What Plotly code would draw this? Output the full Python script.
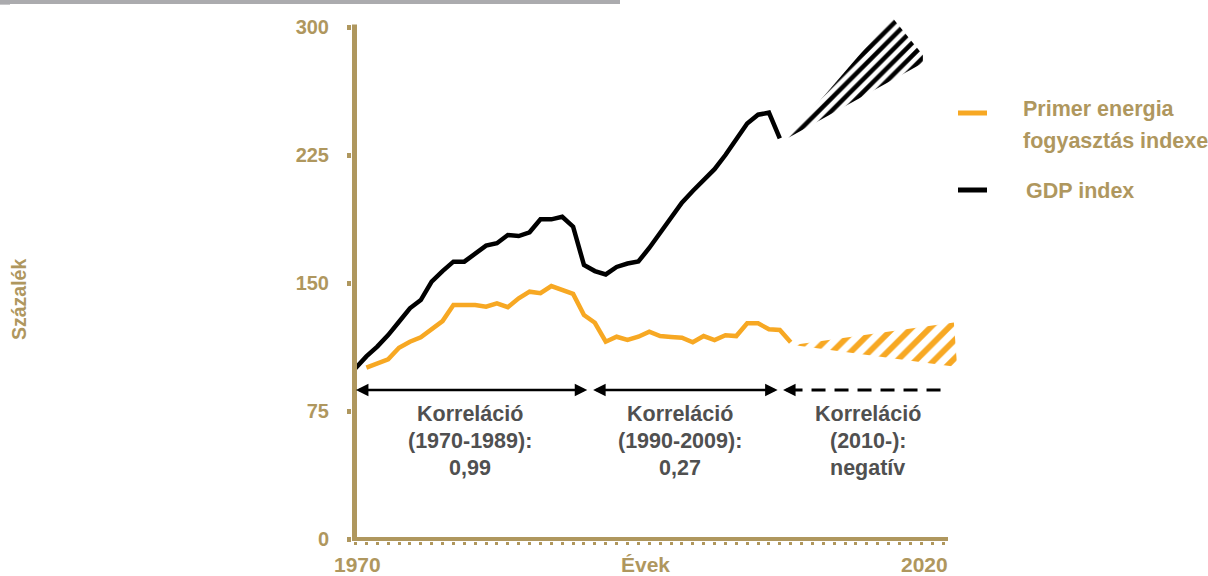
import plotly.graph_objects as go

# ---------------- data ----------------
gdp_years = list(range(1970, 2010))
gdp_index = [100, 107, 112.7, 119.5, 127.3, 135.2, 140.0, 150.8, 157.0, 162.5,
             162.5, 167.4, 171.9, 173.3, 178.1, 177.5, 179.7, 187.3, 187.3, 188.8,
             183.0, 160.5, 157.0, 155.0, 159.4, 161.4, 162.6, 170.5, 179.1, 187.9,
             197.1, 203.9, 210.2, 216.7, 225.0, 234.2, 243.5, 248.6, 249.8, 234.7]

energy_years = list(range(1971, 2011))
energy_index = [100.4, 102.8, 105.3, 112.1, 115.6, 118.2, 122.9, 127.7, 137.1, 137.1,
                137.1, 136.1, 138.1, 135.8, 141.0, 144.9, 144.0, 148.2, 145.9, 143.6,
                131.2, 126.7, 115.6, 118.5, 116.6, 118.5, 121.5, 118.9, 118.4, 117.9,
                115.3, 118.9, 116.6, 119.4, 118.9, 126.4, 126.4, 122.9, 122.5, 115.3]

# projection ranges (hatched areas)
gdp_proj_years = [2009.75, 2019.3, 2022.15, 2022.15, 2009.75]
gdp_proj_values = [235.0, 305.9, 283.6, 278.9, 235.0]
energy_proj_years = [2010.2, 2025.0, 2025.3, 2010.2]
energy_proj_values = [113.7, 126.8, 100.8, 113.7]

y_ticks = [0, 75, 150, 225, 300]
x_minor_ticks = list(range(1970, 2025))
x_labels = ["1970", "Évek", "2020"]

periods = [
    {"start": 1969.9, "end": 1991.3, "lines": ["Korreláció", "(1970-1989):", "0,99"], "dashed": False},
    {"start": 1991.7, "end": 2008.8, "lines": ["Korreláció", "(1990-2009):", "0,27"], "dashed": False},
    {"start": 2009.3, "end": 2024.4, "lines": ["Korreláció", "(2010-):", "negatív"], "dashed": True},
]
period_label_x = [1980.5, 1999.8, 2017.1]

legend_names = [["Primer energia", "fogyasztás indexe"], ["GDP index"]]

# ---------------- style ----------------
KHAKI = "#AF975E"
ORANGE = "#F7A823"
BLACK = "#000000"
GRAY = "#505050"
FONT = "Liberation Sans"

W, H = 1208, 576
L, R, T, B = 352, 1208 - 962, 5, 576 - 541
PW, PH = W - L - R, H - T - B


def px(x):
    return (x - L) / PW


def py(y):
    return (H - B - y) / PH


X0 = 1970 - 3.5 / 10.88
X1 = 1970 + 606.5 / 10.88
Y0 = -2 / 1.70667
Y1 = 536 / 1.70667 + Y0

fig = go.Figure()

fig.add_trace(go.Scatter(
    x=gdp_proj_years, y=gdp_proj_values, fill="toself", mode="lines",
    line=dict(width=0, color=BLACK), fillcolor="white",
    fillpattern=dict(shape="/", fgcolor=BLACK, bgcolor="white", fgopacity=1,
                     size=9, solidity=0.5),
    hoverinfo="skip", showlegend=False))
fig.add_trace(go.Scatter(
    x=energy_proj_years, y=energy_proj_values, fill="toself", mode="lines",
    line=dict(width=0, color=ORANGE), fillcolor="white",
    fillpattern=dict(shape="/", fgcolor=ORANGE, bgcolor="white", fgopacity=1,
                     size=13, solidity=0.45),
    hoverinfo="skip", showlegend=False))

fig.add_trace(go.Scatter(x=energy_years, y=energy_index, mode="lines",
                         line=dict(color=ORANGE, width=4.5), showlegend=False))
fig.add_trace(go.Scatter(x=gdp_years, y=gdp_index, mode="lines",
                         line=dict(color=BLACK, width=4.5), showlegend=False))

shapes = []
# axis lines
shapes.append(dict(type="line", xref="x", yref="y", x0=1969.908, x1=1969.908, y0=Y0, y1=301.5,
                   line=dict(color=KHAKI, width=5)))
shapes.append(dict(type="line", xref="x", yref="y", x0=X0, x1=2024.458, y0=0, y1=0,
                   line=dict(color=KHAKI, width=4)))
# top gray bar
shapes.append(dict(type="rect", xref="paper", yref="paper", x0=px(0), x1=px(620), y0=py(4), y1=py(0),
                   line=dict(width=0), fillcolor="#ABABAE"))
shapes.append(dict(type="rect", xref="paper", yref="paper", x0=px(0), x1=px(10), y0=py(5), y1=py(4),
                   line=dict(width=0), fillcolor="#C8C8CA"))

annotations = []
ARROW_Y = (539 - 390) / 1.70667
for p in periods:
    if not p["dashed"]:
        annotations.append(dict(x=p["end"], y=ARROW_Y, ax=p["start"], ay=ARROW_Y,
                                axref="x", ayref="y", xref="x", yref="y", text="",
                                showarrow=True, arrowside="end+start", arrowhead=2,
                                arrowsize=1, arrowwidth=2.5, arrowcolor=BLACK))
    else:
        shapes.append(dict(type="line", xref="x", yref="y", x0=p["start"] + 0.5, x1=p["end"],
                           y0=ARROW_Y, y1=ARROW_Y, line=dict(color=BLACK, width=3, dash="14px,9px")))
        annotations.append(dict(x=p["start"], y=ARROW_Y, ax=p["start"] + 1.2, ay=ARROW_Y,
                                axref="x", ayref="y", xref="x", yref="y", text="",
                                showarrow=True, arrowside="end", arrowhead=2,
                                arrowsize=1, arrowwidth=2.5, arrowcolor=BLACK))

line_y_px = [414, 441, 468]
for p, cx in zip(periods, period_label_x):
    for txt, ypx in zip(p["lines"], line_y_px):
        annotations.append(dict(x=cx, y=(539 - ypx) / 1.70667, xref="x", yref="y",
                                text=txt, showarrow=False, xanchor="center", yanchor="middle",
                                font=dict(family=FONT, size=21.5, color=GRAY, weight="bold")))

# x labels
for txt, xpx in zip(x_labels, [357, 645, 924]):
    annotations.append(dict(x=px(xpx), y=py(564.5), xref="paper", yref="paper", text=txt,
                            showarrow=False, xanchor="center", yanchor="middle",
                            font=dict(family=FONT, size=21, color=KHAKI, weight="bold")))

# y title
annotations.append(dict(x=px(19), y=py(300), xref="paper", yref="paper", text="Százalék",
                        textangle=-90, showarrow=False, xanchor="center", yanchor="middle",
                        font=dict(family=FONT, size=19.5, color=KHAKI, weight="bold")))

# legend
legend_colors = [ORANGE, BLACK]
legend_y = [113, 190]
for names, col, ly in zip(legend_names, legend_colors, legend_y):
    shapes.append(dict(type="line", xref="paper", yref="paper", x0=px(958), x1=px(987),
                       y0=py(ly), y1=py(ly), line=dict(color=col, width=5)))
for txt, ypx in zip(legend_names[0], [109, 141]):
    annotations.append(dict(x=px(1021), y=py(ypx), xref="paper", yref="paper", text=txt,
                            showarrow=False, xanchor="left", yanchor="middle",
                            font=dict(family=FONT, size=21.5, color=KHAKI, weight="bold")))
annotations.append(dict(x=px(1024), y=py(191), xref="paper", yref="paper", text=legend_names[1][0],
                        showarrow=False, xanchor="left", yanchor="middle",
                        font=dict(family=FONT, size=21.5, color=KHAKI, weight="bold")))

fig.update_layout(
    width=W, height=H, margin=dict(l=L, r=R, t=T, b=B),
    plot_bgcolor="white", paper_bgcolor="white",
    shapes=shapes, annotations=annotations,
    xaxis=dict(range=[X0, X1], showgrid=False, zeroline=False, showline=False,
               tickvals=x_minor_ticks, ticktext=[""] * len(x_minor_ticks),
               ticks="outside", ticklen=3, tickwidth=2.5, tickcolor=KHAKI, fixedrange=True),
    yaxis=dict(range=[Y0, Y1], showgrid=False, zeroline=False, showline=False,
               tickvals=y_ticks, ticks="outside", ticklen=4, tickwidth=5, tickcolor=KHAKI,
               ticklabelstandoff=14,
               tickfont=dict(family=FONT, size=20, color=KHAKI, weight="bold"), fixedrange=True),
)

fig.write_html("out.html", config={"displayModeBar": False},
               post_script="document.body.style.margin='0';document.body.style.overflow='hidden';")
